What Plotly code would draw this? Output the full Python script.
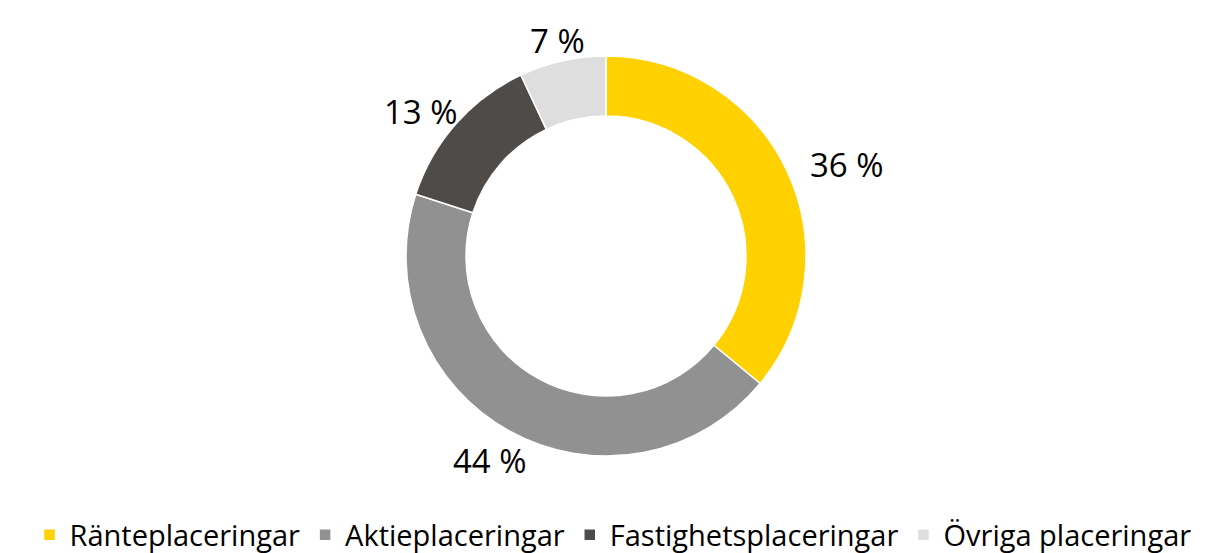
import math
import plotly.graph_objects as go

categories = ["Ränteplaceringar", "Aktieplaceringar", "Fastighetsplaceringar", "Övriga placeringar"]
values = [36, 44, 13, 7]
colors = ["#FFD100", "#919191", "#4F4B48", "#DEDEDE"]
labels_text = [f"{v} %" for v in values]

W, H = 1210, 553
ML, MR, MT, MB = 0, 14, 48, 101
FONT = "Open Sans, DejaVu Sans, sans-serif"

fig = go.Figure(go.Pie(
    labels=categories,
    values=values,
    textinfo="none",
    hole=0.70,
    sort=False,
    direction="clockwise",
    rotation=0,
    marker=dict(colors=colors, line=dict(color="white", width=1.5)),
    showlegend=True,
    hoverinfo="label+percent",
))

# outside labels placed around the ring from each slice's mid angle
plot_w = W - ML - MR
plot_h = H - MT - MB
R = 200            # ring outer radius in px
cx, cy = 606, 255.5  # ring centre in px
total = sum(values)
cum = 0
lab_w, lab_h = 90, 34
gap = 12
for v, t in zip(values, labels_text):
    mid = (cum + v / 2) / total * 2 * math.pi
    cum += v
    s, c = math.sin(mid), math.cos(mid)
    px = cx + (R + gap) * s + (lab_w / 2) * s
    py = cy - (R + gap) * c - (lab_h / 2) * c
    fig.add_annotation(
        x=(px - ML) / plot_w, y=(H - MB - py) / plot_h, xref="paper", yref="paper",
        text=t, showarrow=False, xanchor="center", yanchor="middle",
        font=dict(size=33, color="black", family=FONT),
    )

fig.update_layout(
    width=W, height=H,
    margin=dict(l=ML, r=MR, t=MT, b=MB),
    paper_bgcolor="white", plot_bgcolor="white",
    font=dict(family=FONT, color="black"),
    legend=dict(orientation="h", x=(W / 2 - ML) / plot_w, xanchor="center",
                y=-(506 - (H - MB)) / plot_h, yanchor="top",
                font=dict(size=29, color="black", family=FONT), itemwidth=30,
                tracegroupgap=0),
)
fig.write_html("out.html")
